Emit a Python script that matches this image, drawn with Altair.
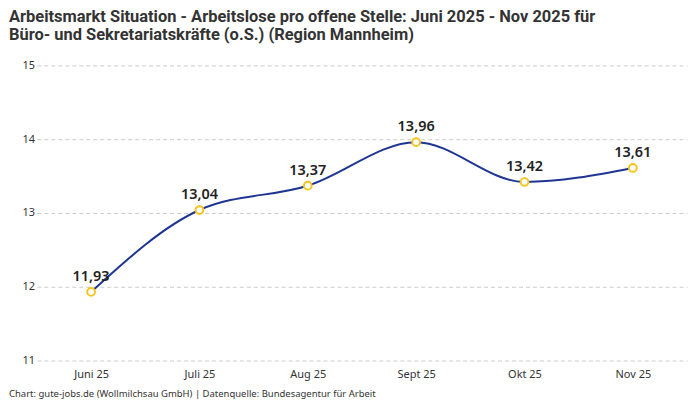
import pandas as pd
import altair as alt

months = ["Juni 25", "Juli 25", "Aug 25", "Sept 25", "Okt 25", "Nov 25"]
values = [11.93, 13.04, 13.37, 13.96, 13.42, 13.61]
labels = ["11,93", "13,04", "13,37", "13,96", "13,42", "13,61"]

title_lines = [
    "Arbeitsmarkt Situation - Arbeitslose pro offene Stelle: Juni 2025 - Nov 2025 für",
    "Büro- und Sekretariatskräfte (o.S.) (Region Mannheim)",
]
source_note = "Chart: gute-jobs.de (Wollmilchsau GmbH) | Datenquelle: Bundesagentur für Arbeit"

df = pd.DataFrame({"Monat": months, "Wert": values, "Label": labels})

W, H = 652, 296
FONT = "Noto Sans"
TITLE_FONT = "Roboto"

x_enc = alt.X(
    "Monat:N",
    sort=months,
    scale=alt.Scale(type="point", padding=0.5),
    axis=alt.Axis(
        title=None,
        labelAngle=0,
        domain=False,
        ticks=False,
        labelPadding=8,
        labelFontSize=11,
        labelColor="#333333",
        labelFont=FONT,
    ),
)
y_enc = alt.Y(
    "Wert:Q",
    scale=alt.Scale(domain=[11, 15], nice=False, zero=False),
    axis=alt.Axis(
        title=None,
        values=[11, 12, 13, 14, 15],
        domain=False,
        ticks=False,
        labelPadding=15,
        labelAlign="left",
        labelFontSize=11,
        labelColor="#333333",
        labelFont=FONT,
        grid=True,
        gridDash=[4, 3],
        gridColor="#cccccc",
    ),
)

base = alt.Chart(df).encode(x=x_enc, y=y_enc)

line = base.mark_line(color="#1f3593", strokeWidth=2, interpolate="monotone")
points = base.mark_point(
    filled=True, fill="white", stroke="#f7c31c", strokeWidth=2, size=60, opacity=1
)
text = base.mark_text(
    dy=-15, fontSize=14.5, fontWeight=600, color="#222222", font=FONT
).encode(text="Label:N")


def free_text(s, y, size, weight="normal", font=FONT):
    return (
        alt.Chart(pd.DataFrame({"t": [s]}))
        .mark_text(
            align="left",
            baseline="alphabetic",
            fontSize=size,
            fontWeight=weight,
            color="#333333",
            font=font,
        )
        .encode(text="t:N", x=alt.value(-28), y=alt.value(y))
    )


# the svg starts at the 8px page margin, so the first line sits a little lower than in the original
title1 = free_text(title_lines[0], -44, 16.5, "bold", TITLE_FONT)
title2 = free_text(title_lines[1], -25, 16.5, "bold", TITLE_FONT)
footer = free_text(source_note, H + 37, 9.5)

chart = (
    (line + points + text + title1 + title2 + footer)
    .properties(
        width=W,
        height=H,
        autosize=alt.AutoSizeParams(type="none"),
        padding={"left": 29, "top": 57, "right": 5, "bottom": 40},
    )
    .configure_view(stroke=None)
)

chart.save("out.html", embed_options={"renderer": "svg", "actions": False})
